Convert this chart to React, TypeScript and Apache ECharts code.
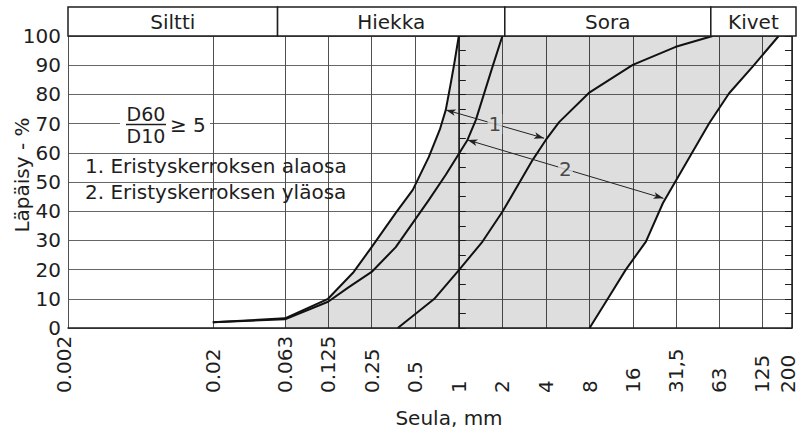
import React, { useEffect, useRef } from 'react';
import * as echarts from 'echarts';

const FONT = 'DejaVu Sans, Verdana, sans-serif';
const INK = '#1e1e1e';
const FS = 20;

// x-axis sieve sizes (mm) and their labels
const xTickValues = [0.002, 0.02, 0.063, 0.125, 0.25, 0.5, 1, 2, 4, 8, 16, 31.5, 63, 125, 200];
const xTickLabels = ['0.002', '0.02', '0.063', '0.125', '0.25', '0.5', '1', '2', '4', '8', '16', '31,5', '63', '125', '200'];

// soil fraction header
const fractionNames = ['Siltti', 'Hiekka', 'Sora', 'Kivet'];
const fractionBounds = [0.002, 0.055, 2, 52, 200];

// grading curves (size mm, passing %)
const curveASize = [0.02, 0.063, 0.125, 0.188, 0.25, 0.367, 0.481, 0.621, 0.74, 0.813, 0.88, 0.93, 1.0];
const curveAPass = [2, 3.3, 10, 19.2, 27.7, 39.4, 47.3, 58.6, 68, 74.7, 83.8, 90.5, 100];

const curveBSize = [0.02, 0.063, 0.125, 0.174, 0.25, 0.367, 0.62, 0.813, 1.148, 1.31, 1.71, 2.0];
const curveBPass = [2, 3, 9, 14, 19.2, 27.7, 43.8, 52.5, 64.4, 71.2, 89.5, 100];

const curveCSize = [0.379, 0.675, 1.005, 1.458, 2.0, 3.23, 3.99, 4.93, 7.91, 15.9, 31.5, 56.6];
const curveCPass = [0, 9.9, 19.9, 29.6, 39.8, 57.5, 64.4, 70.5, 80.5, 90.1, 96.3, 100];

const curveDSize = [8, 10.9, 14.2, 19.6, 25.7, 53.6, 73.6, 107, 161.8];
const curveDPass = [0, 10.7, 19.9, 29.6, 42.8, 70.1, 80.4, 89.5, 100];

// shaded band starts at this size
const fillStartSize = 0.063;

// arrows between band boundaries
const arrowLabels = ['1', '2'];
const arrowStartSize = [0.813, 1.148];
const arrowStartPass = [74.7, 64.4];
const arrowEndSize = [3.88, 25.9];
const arrowEndPass = [65, 44.4];

const lg = (v: number) => Math.log10(v);
const pairs = (s: number[], p: number[]) => s.map((v, i) => [lg(v), p[i]]);

export default function App() {
  const ref = useRef<HTMLDivElement>(null);

  useEffect(() => {
    if (!ref.current) return;
    const chart = echarts.init(ref.current, null, { renderer: 'svg' });

    const tickLogs = xTickValues.map(lg);
    const lastIdx = xTickValues.length - 1;
    const labelFor = (val: number) => {
      const i = tickLogs.findIndex((t) => Math.abs(t - val) < 1e-6);
      if (i < 0) return '';
      return i === 0 || i === lastIdx ? `{edge|${xTickLabels[i]}}` : xTickLabels[i];
    };

    const aPts = curveASize
      .map((s, i) => [s, curveAPass[i]])
      .filter(([s]) => s >= fillStartSize);
    const dPts = curveDSize.map((s, i) => [s, curveDPass[i]]).reverse();
    const fillPts = [[fillStartSize, 0], ...aPts, ...dPts];

    const curves = [
      [curveASize, curveAPass],
      [curveBSize, curveBPass],
      [curveCSize, curveCPass],
      [curveDSize, curveDPass],
    ];

    const xMin = lg(xTickValues[0]);
    const xMax = lg(xTickValues[lastIdx]);

    const txt = (text: string, x: number, y: number, align = 'left', extra: any = {}, fs = FS) => ({
      type: 'text',
      x,
      y,
      z: 11,
      ...extra,
      style: { text, align, verticalAlign: 'middle', fontSize: fs, fontFamily: FONT, fill: INK },
    });

    const option: any = {
      animation: false,
      grid: [
        { left: 68, top: 36, width: 728, height: 292, containLabel: false },
        { left: 68, top: 7, width: 728, height: 29, containLabel: false },
      ],
      xAxis: [
        {
          type: 'value',
          gridIndex: 0,
          min: xMin,
          max: xMax,
          axisLine: { show: true, lineStyle: { color: INK, width: 1.5 } },
          axisTick: { show: false, customValues: tickLogs },
          splitLine: { show: true, lineStyle: { color: '#505050', width: 1 } },
          axisLabel: {
            customValues: tickLogs,
            formatter: (v: number) => labelFor(v),
            rotate: 90,
            align: 'left',
            verticalAlign: 'middle',
            margin: 65,
            fontSize: FS,
            fontFamily: FONT,
            color: INK,
            rich: {
              edge: { fontSize: FS, fontFamily: FONT, color: INK, padding: [0, 0, 8, 0] },
            },
          },
        },
        {
          type: 'value',
          gridIndex: 1,
          min: xMin,
          max: xMax,
          show: false,
        },
      ],
      yAxis: [
        {
          type: 'value',
          gridIndex: 0,
          min: 0,
          max: 100,
          interval: 10,
          axisLine: { show: true, lineStyle: { color: INK, width: 1.5 } },
          axisTick: { show: true, inside: true, length: 7, lineStyle: { color: INK } },
          minorTick: { show: true, splitNumber: 2, length: 7, lineStyle: { color: INK } },
          splitLine: { show: true, lineStyle: { color: '#666', width: 1 } },
          axisLabel: { margin: 7, fontSize: FS, fontFamily: FONT, color: INK },
        },
        {
          type: 'value',
          gridIndex: 0,
          position: 'right',
          min: 0,
          max: 100,
          interval: 10,
          axisLine: { show: true, lineStyle: { color: INK, width: 1.5 } },
          axisTick: { show: true, inside: true, length: 7, lineStyle: { color: INK } },
          minorTick: { show: true, splitNumber: 2, length: 7, lineStyle: { color: INK } },
          splitLine: { show: false },
          axisLabel: { show: false },
        },
        {
          type: 'value',
          gridIndex: 1,
          min: 0,
          max: 1,
          show: false,
        },
      ],
      series: [
        {
          type: 'custom',
          xAxisIndex: 0,
          yAxisIndex: 0,
          z: 1,
          silent: true,
          data: [[0, 0]],
          renderItem: (_p: any, api: any) => ({
            type: 'polygon',
            shape: { points: fillPts.map(([s, p]) => api.coord([lg(s), p])) },
            style: { fill: 'rgba(0,0,0,0.13)' },
          }),
        },
        ...curves.map(([s, p]) => ({
          type: 'line',
          xAxisIndex: 0,
          yAxisIndex: 0,
          z: 4,
          silent: true,
          symbol: 'none',
          data: pairs(s, p),
          lineStyle: { color: '#111', width: 2, join: 'round' },
        })),
        {
          type: 'line',
          xAxisIndex: 0,
          yAxisIndex: 0,
          z: 3,
          data: [],
          markLine: {
            silent: true,
            symbol: ['arrow', 'arrow'],
            symbolSize: [5, 10],
            label: { show: false },
            lineStyle: { color: '#222', width: 1, type: 'solid' },
            data: arrowLabels.map((_, i) => [
              { coord: [lg(arrowStartSize[i]), arrowStartPass[i]] },
              { coord: [lg(arrowEndSize[i]), arrowEndPass[i]] },
            ]),
          },
        },
        {
          type: 'scatter',
          xAxisIndex: 0,
          yAxisIndex: 0,
          z: 5,
          silent: true,
          symbolSize: 0,
          data: arrowLabels.map((_, i) => [
            (lg(arrowStartSize[i]) + lg(arrowEndSize[i])) / 2,
            (arrowStartPass[i] + arrowEndPass[i]) / 2,
          ]),
          label: {
            show: true,
            position: 'inside',
            formatter: (p: any) => arrowLabels[p.dataIndex],
            fontSize: FS,
            fontFamily: FONT,
            color: INK,
            backgroundColor: '#dedede',
            padding: [0, 1],
          },
        },
        {
          type: 'custom',
          xAxisIndex: 1,
          yAxisIndex: 2,
          z: 6,
          silent: true,
          clip: false,
          data: fractionNames.map((_, i) => [lg(fractionBounds[i]), lg(fractionBounds[i + 1])]),
          renderItem: (params: any, api: any) => {
            const p0 = api.coord([api.value(0), 1]);
            const p1 = api.coord([api.value(1), 0]);
            return {
              type: 'group',
              children: [
                {
                  type: 'rect',
                  shape: { x: p0[0], y: p0[1], width: p1[0] - p0[0], height: p1[1] - p0[1] },
                  style: { fill: '#fff', stroke: INK, lineWidth: 1.5 },
                },
                {
                  type: 'text',
                  style: {
                    text: fractionNames[params.dataIndex],
                    x: (p0[0] + p1[0]) / 2,
                    y: (p0[1] + p1[1]) / 2,
                    align: 'center',
                    verticalAlign: 'middle',
                    fontSize: FS,
                    fontFamily: FONT,
                    fill: INK,
                  },
                },
              ],
            };
          },
        },
      ],
      graphic: [
        txt('Läpäisy - %', 22, 175, 'center', { rotation: Math.PI / 2 }),
        txt('Seula, mm', 449, 418, 'center'),
        { type: 'rect', shape: { x: 120, y: 104, width: 90, height: 42 }, style: { fill: '#fff' }, z: 10 },
        txt('D60', 146, 113.5, 'center', {}, 19),
        { type: 'line', shape: { x1: 126, y1: 124.5, x2: 166, y2: 124.5 }, style: { stroke: INK, lineWidth: 1.5 }, z: 11 },
        txt('D10', 146, 135.5, 'center', {}, 19),
        txt('≥ 5', 170, 125),
        txt('1. Eristyskerroksen alaosa', 85, 165.5),
        txt('2. Eristyskerroksen yläosa', 85, 192),
      ],
    };

    chart.setOption(option);
    return () => chart.dispose();
  }, []);

  return <div ref={ref} style={{ position: 'absolute', left: 0, top: 0, width: 798, height: 430 }} />;
}
